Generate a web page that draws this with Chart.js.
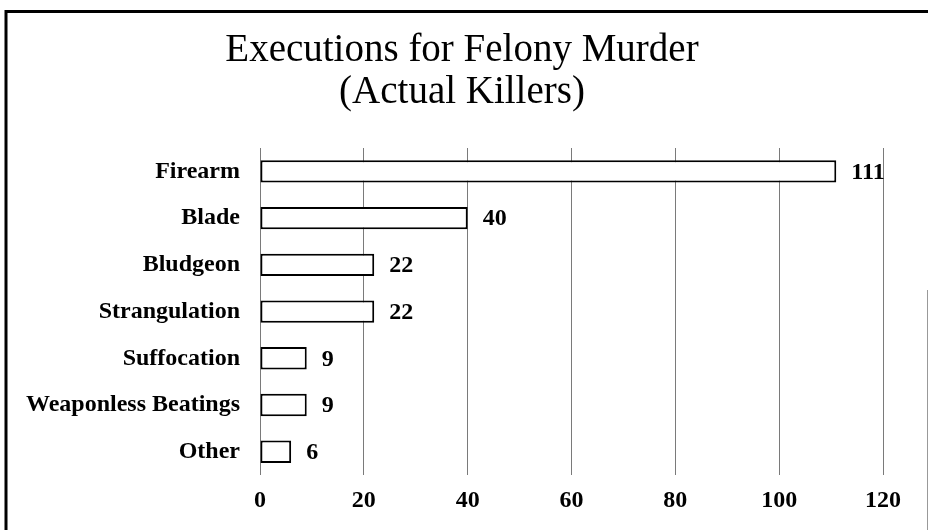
<!DOCTYPE html>
<html>
<head>
<meta charset="utf-8">
<script src="https://cdn.jsdelivr.net/npm/chart.js@4/dist/chart.umd.min.js"></script>
<style>
  html, body { margin: 0; padding: 0; background: #fff; }
  #wrap { width: 928px; height: 530px; position: relative; }
</style>
</head>
<body>
<div id="wrap"><canvas id="c" width="928" height="530"></canvas></div>
<script>
const titleLines = ['Executions for Felony Murder', '(Actual Killers)'];
const categories = ['Firearm', 'Blade', 'Bludgeon', 'Strangulation', 'Suffocation', 'Weaponless Beatings', 'Other'];
const executions = [111, 40, 22, 22, 9, 9, 6];
const axisMin = 0;
const axisMax = 120;
const axisStep = 20;

const SERIF = "'Liberation Serif', 'Times New Roman', serif";

const framePlugin = {
  id: 'frame',
  beforeDraw(chart) {
    const ctx = chart.ctx;
    ctx.save();
    ctx.fillStyle = '#fff';
    ctx.fillRect(0, 0, chart.width, chart.height);
    ctx.strokeStyle = '#000';
    ctx.lineWidth = 3;
    ctx.beginPath();
    ctx.moveTo(6, chart.height);
    ctx.lineTo(6, 11.5);
    ctx.lineTo(chart.width, 11.5);
    ctx.stroke();
    ctx.strokeStyle = '#999';
    ctx.lineWidth = 1;
    ctx.beginPath();
    ctx.moveTo(927.5, 290);
    ctx.lineTo(927.5, chart.height);
    ctx.stroke();
    // title
    ctx.fillStyle = '#000';
    ctx.font = '39px ' + SERIF;
    ctx.textAlign = 'center';
    ctx.textBaseline = 'middle';
    titleLines.forEach((line, i) => ctx.fillText(line, 462, 51 + i * 42));
    ctx.restore();
  }
};

const valueLabels = {
  id: 'valueLabels',
  afterDatasetsDraw(chart) {
    const ctx = chart.ctx;
    const meta = chart.getDatasetMeta(0);
    ctx.save();
    ctx.fillStyle = '#000';
    ctx.font = 'bold 24px ' + SERIF;
    ctx.textAlign = 'left';
    ctx.textBaseline = 'middle';
    meta.data.forEach((bar, i) => {
      ctx.fillText(String(chart.data.datasets[0].data[i]), bar.x + 15, bar.y + 1);
    });
    ctx.restore();
  }
};

new Chart(document.getElementById('c'), {
  type: 'bar',
  data: {
    labels: categories,
    datasets: [{
      data: executions,
      backgroundColor: '#fff',
      borderColor: '#000',
      borderWidth: 2,
      borderSkipped: false,
      categoryPercentage: 1,
      barPercentage: 0.48
    }]
  },
  options: {
    indexAxis: 'y',
    responsive: false,
    animation: false,
    devicePixelRatio: 1,
    layout: { padding: { left: 6, right: 45, top: 148, bottom: 4 } },
    plugins: {
      legend: { display: false },
      tooltip: { enabled: false },
      title: { display: false }
    },
    scales: {
      x: {
        min: axisMin,
        max: axisMax,
        border: { display: false },
        grid: { color: '#7a7a7a', lineWidth: 1, drawTicks: false },
        ticks: {
          stepSize: axisStep,
          color: '#000',
          padding: 11,
          font: { family: SERIF, size: 24, weight: 'bold' }
        }
      },
      y: {
        border: { display: false },
        grid: { display: false, drawTicks: false },
        afterFit(scale) { scale.width = 254; },
        ticks: {
          color: '#000',
          padding: 20,
          font: { family: SERIF, size: 24, weight: 'bold' }
        }
      }
    }
  },
  plugins: [framePlugin, valueLabels]
});
</script>
</body>
</html>
